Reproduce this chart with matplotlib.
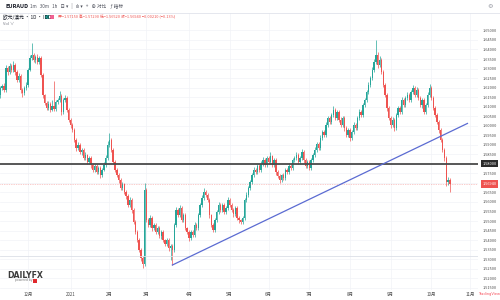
import matplotlib
matplotlib.use("Agg")
import matplotlib.pyplot as plt
from matplotlib.patches import Rectangle
import numpy as np
import pandas as pd

plt.rcParams["font.family"] = ["Noto Sans CJK SC", "DejaVu Sans"]

symbol = "EURAUD"

# daily EUR/AUD candles (open = previous close)
start_date = "2020-11-10"
first_open = 1.6161
closes = [
    1.6198, 1.6209, 1.6188, 1.6303, 1.6282, 1.6314, 1.6293, 1.6319, 1.6282, 1.6240,
    1.6261, 1.6188, 1.6172, 1.6198, 1.6214, 1.6293, 1.6356, 1.6371, 1.6345, 1.6361,
    1.6335, 1.6356, 1.6266, 1.6161, 1.6119, 1.6093, 1.6114, 1.6083, 1.6104, 1.6088,
    1.6125, 1.6135, 1.6156, 1.6072, 1.6135, 1.6146, 1.6083, 1.6030, 1.6004, 1.5978,
    1.5925, 1.5883, 1.5899, 1.5862, 1.5873, 1.5831, 1.5846, 1.5810, 1.5831, 1.5794,
    1.5768, 1.5789, 1.5757, 1.5778, 1.5741, 1.5768, 1.5794, 1.5831, 1.5899, 1.5925,
    1.5873, 1.5810, 1.5768, 1.5741, 1.5715, 1.5673, 1.5694, 1.5652, 1.5631, 1.5584,
    1.5610, 1.5558, 1.5495, 1.5442, 1.5400, 1.5348, 1.5306, 1.5274, 1.5663, 1.5505,
    1.5479, 1.5516, 1.5463, 1.5479, 1.5442, 1.5463, 1.5421, 1.5442, 1.5400, 1.5379,
    1.5400, 1.5358, 1.5369, 1.5348, 1.5479, 1.5558, 1.5531, 1.5568, 1.5505, 1.5531,
    1.5463, 1.5442, 1.5411, 1.5442, 1.5426, 1.5479, 1.5463, 1.5531, 1.5584, 1.5621,
    1.5652, 1.5636, 1.5610, 1.5531, 1.5479, 1.5453, 1.5505, 1.5547, 1.5584, 1.5558,
    1.5584, 1.5547, 1.5568, 1.5610, 1.5584, 1.5558, 1.5537, 1.5568, 1.5516, 1.5505,
    1.5495, 1.5516, 1.5610, 1.5636, 1.5673, 1.5705, 1.5741, 1.5768, 1.5757, 1.5789,
    1.5768, 1.5799, 1.5820, 1.5794, 1.5831, 1.5810, 1.5841, 1.5794, 1.5820, 1.5757,
    1.5736, 1.5715, 1.5741, 1.5726, 1.5768, 1.5757, 1.5789, 1.5778, 1.5820, 1.5831,
    1.5846, 1.5810, 1.5831, 1.5862, 1.5820, 1.5789, 1.5810, 1.5778, 1.5820, 1.5846,
    1.5873, 1.5904, 1.5883, 1.5936, 1.5967, 1.5951, 1.6004, 1.6041, 1.6020, 1.6056,
    1.6083, 1.6041, 1.6072, 1.6030, 1.6004, 1.6041, 1.5988, 1.5951, 1.5978, 1.5936,
    1.5967, 1.6004, 1.5988, 1.6041, 1.6072, 1.6056, 1.6109, 1.6135, 1.6177, 1.6214,
    1.6251, 1.6293, 1.6335, 1.6371, 1.6319, 1.6345, 1.6282, 1.6214, 1.6161, 1.6093,
    1.6041, 1.6004, 1.6030, 1.5988, 1.6056, 1.6093, 1.6072, 1.6135, 1.6109, 1.6146,
    1.6161, 1.6135, 1.6177, 1.6198, 1.6161, 1.6188, 1.6146, 1.6109, 1.6135, 1.6072,
    1.6109, 1.6161, 1.6198, 1.6146, 1.6093, 1.6056, 1.6020, 1.5978, 1.5925, 1.5873,
    1.5831, 1.5705, 1.5715, 1.5694,
]
# wick length beyond the body, in pips
upper_wick = [
    12, 10, 15, 18, 9, 14, 11, 20, 8, 13, 16, 10, 9, 12, 15, 8, 14, 63, 12, 10,
    14, 9, 11, 10, 8, 12, 15, 9, 30, 130, 10, 12, 25, 9, 11, 14, 8, 10, 9, 12,
    10, 8, 14, 9, 12, 10, 15, 8, 11, 9, 13, 10, 8, 12, 9, 11, 14, 18, 20, 37,
    12, 9, 10, 8, 11, 9, 13, 8, 10, 12, 15, 9, 8, 10, 9, 11, 8, 10, 36, 12,
    10, 14, 9, 11, 8, 12, 10, 9, 13, 8, 11, 9, 10, 8, 12, 15, 10, 18, 9, 11,
    10, 8, 12, 9, 11, 14, 10, 9, 12, 15, 20, 11, 9, 10, 8, 12, 11, 9, 14, 10,
    12, 9, 11, 14, 10, 8, 12, 9, 10, 11, 8, 9, 12, 14, 10, 11, 13, 15, 9, 12,
    10, 14, 18, 9, 12, 10, 20, 8, 11, 9, 10, 12, 8, 11, 9, 10, 14, 8, 12, 11,
    15, 9, 12, 14, 8, 10, 11, 9, 12, 10, 14, 11, 9, 15, 12, 10, 14, 11, 9, 13,
    20, 10, 12, 9, 14, 11, 8, 10, 12, 9, 11, 13, 10, 12, 14, 9, 11, 12, 10, 13,
    12, 14, 15, 79, 18, 20, 10, 12, 9, 11, 8, 10, 14, 9, 12, 10, 11, 14, 9, 12,
    15, 10, 12, 18, 9, 14, 10, 11, 9, 12, 10, 14, 20, 9, 11, 8, 10, 9, 12, 10,
    11, 9, 14, 10,
]
lower_wick = [
    14, 9, 12, 10, 15, 8, 12, 10, 14, 9, 11, 16, 20, 10, 9, 12, 8, 11, 10, 14,
    9, 12, 10, 14, 11, 9, 12, 10, 8, 11, 9, 10, 12, 14, 9, 10, 12, 11, 14, 10,
    12, 15, 10, 9, 14, 11, 10, 12, 9, 15, 11, 10, 12, 9, 14, 10, 8, 12, 10, 9,
    11, 10, 12, 9, 14, 10, 12, 11, 15, 10, 12, 14, 10, 11, 12, 10, 14, 21, 10, 12,
    10, 11, 14, 9, 12, 10, 11, 15, 10, 12, 9, 14, 60, 79, 12, 10, 11, 9, 12, 10,
    11, 12, 14, 10, 12, 9, 11, 10, 12, 9, 10, 11, 12, 14, 10, 12, 9, 11, 10, 12,
    9, 11, 10, 12, 9, 11, 14, 10, 12, 15, 12, 10, 11, 9, 10, 12, 9, 11, 10, 12,
    9, 11, 10, 12, 9, 10, 11, 12, 10, 14, 12, 18, 10, 11, 9, 12, 10, 11, 12, 9,
    10, 12, 11, 9, 14, 12, 10, 11, 9, 12, 10, 11, 12, 9, 10, 12, 9, 11, 10, 12,
    10, 12, 11, 10, 12, 9, 14, 11, 10, 15, 12, 10, 11, 9, 10, 12, 11, 9, 10, 12,
    11, 9, 10, 12, 14, 10, 12, 11, 10, 15, 12, 14, 10, 18, 11, 9, 12, 10, 11, 9,
    10, 12, 9, 11, 10, 12, 11, 10, 14, 12, 10, 9, 11, 12, 10, 11, 12, 14, 10, 12,
    14, 20, 18, 42,
]

level_line = 1.5800
support_line = 1.5316
trend_x = [93, 252.5]
trend_y = [1.5269, 1.6012]
y_ticks = np.arange(1.5150, 1.65001, 0.005)

UP = "#26a69a"
DOWN = "#ef5350"


def px(x, y):
    return x / 500, 1 - y / 300


def main():
    c = np.array(closes)
    o = np.array([first_open] + closes[:-1])
    hi = np.maximum(o, c) + np.array(upper_wick) * 1e-4
    lo = np.minimum(o, c) - np.array(lower_wick) * 1e-4
    idx = np.arange(len(c))
    up = c >= o

    dates = pd.bdate_range(start_date, periods=len(c) + 20)
    month_pos = [i for i in range(1, len(dates)) if dates[i].month != dates[i - 1].month]
    month_lbl = ["2021" if dates[i].month == 1 else f"{dates[i].month}月" for i in month_pos]

    fig = plt.figure(figsize=(5, 3), dpi=100)
    ax = fig.add_axes([0, 0.033, 0.956, 0.924])

    for mask, col in ((up, UP), (~up, DOWN)):
        ax.vlines(idx[mask], lo[mask], hi[mask], color=col, lw=0.5)
        ax.bar(idx[mask], np.maximum(np.abs(c - o)[mask], 0.00025),
               bottom=np.minimum(o, c)[mask], width=0.72, color=col, linewidth=0)

    ax.axhline(level_line, color="#4a4a4a", lw=1.3)
    ax.axhline(support_line, color="#dcdfe6", lw=0.6)
    ax.axhline(c[-1], color=DOWN, lw=0.5, ls=(0, (1, 1.5)), alpha=0.6)
    ax.plot(trend_x, trend_y, color="#5b6bd2", lw=0.9)

    ax.set_xlim(-0.16, 258.2)
    ax.set_ylim(1.51375, 1.6592)
    ax.set_xticks(month_pos)
    ax.set_xticklabels(month_lbl)
    # the price tags cover the scale labels next to them
    tags = (level_line, c[-1])
    ax.set_yticks(y_ticks)
    ax.set_yticklabels(["" if min(abs(v - t) for t in tags) < 0.0035 else f"{v:.5f}"
                        for v in y_ticks])
    ax.yaxis.tick_right()
    ax.tick_params(axis="both", length=0, labelcolor="#4a4a4a")
    ax.tick_params(axis="y", pad=3.2, labelsize=2.8)
    ax.tick_params(axis="x", pad=1.5, labelsize=3.2)
    ax.grid(color="#f2f3f7", lw=0.5)
    ax.set_axisbelow(True)
    for s in ax.spines.values():
        s.set_visible(False)

    tr = ax.get_yaxis_transform()
    ax.text(1.009, level_line, f"{level_line:.5f}", transform=tr, fontsize=2.8,
            color="white", va="center", ha="left", clip_on=False,
            bbox=dict(boxstyle="square,pad=0.4", fc="#2b2b2b", ec="none"))
    ax.text(1.009, c[-1], f"{c[-1]:.5f}", transform=tr, fontsize=2.8,
            color="white", va="center", ha="left", clip_on=False,
            bbox=dict(boxstyle="square,pad=0.4", fc=DOWN, ec="none"))

    # header
    fig.add_artist(plt.Line2D([0, 1], [1 - 12.5 / 300] * 2, color="#e0e3eb", lw=0.6))
    fig.text(*px(5, 6), symbol, fontsize=4.0, fontweight="bold", color="#131722", va="center")
    fig.text(*px(30, 6), "1m   30m   1h   日 ▾   |   ılı ▾   +   ⊕ 对比    ƒ 指标",
             fontsize=3.3, color="#50535e", va="center")
    fig.text(*px(3, 17), "欧元/澳元 · 1D · IDC", fontsize=3.4, color="#131722", va="center")
    fig.add_artist(Rectangle(px(45, 19), 3.5 / 500, 3.5 / 300, transform=fig.transFigure,
                             fc=UP, ec="none"))
    fig.add_artist(Rectangle(px(50, 19), 3.5 / 500, 3.5 / 300, transform=fig.transFigure,
                             fc="#f06292", ec="none"))
    fig.text(*px(58, 17), "开=1.57150 高=1.57290 低=1.56520 收=1.56940 −0.00210 (−0.13%)",
             fontsize=2.8, color=DOWN, va="center")
    fig.text(*px(3, 24), "Vol ∨", fontsize=3.0, color="#787b86", va="center")
    fig.text(*px(490, 6), "⚙", fontsize=4.5, color="#9598a1", va="center", ha="center")

    # DailyFX logo
    fig.text(*px(7, 275.5), "DAILYFX", fontsize=5.6, fontweight="bold", color="#3b3b3b",
             va="center", family="DejaVu Sans")
    fig.text(*px(15, 280.5), "powered by", fontsize=2.2, color="#777777", va="center",
             family="DejaVu Sans")
    fig.add_artist(Rectangle(px(33, 282.5), 4 / 500, 4 / 300, transform=fig.transFigure,
                             fc="#e0282d", ec="none"))
    fig.text(*px(478, 294), "TradingView", fontsize=2.6, color="#f7525f", va="center",
             family="DejaVu Sans")

    fig.savefig("out.png", dpi=100, facecolor="white")


if __name__ == "__main__":
    main()
